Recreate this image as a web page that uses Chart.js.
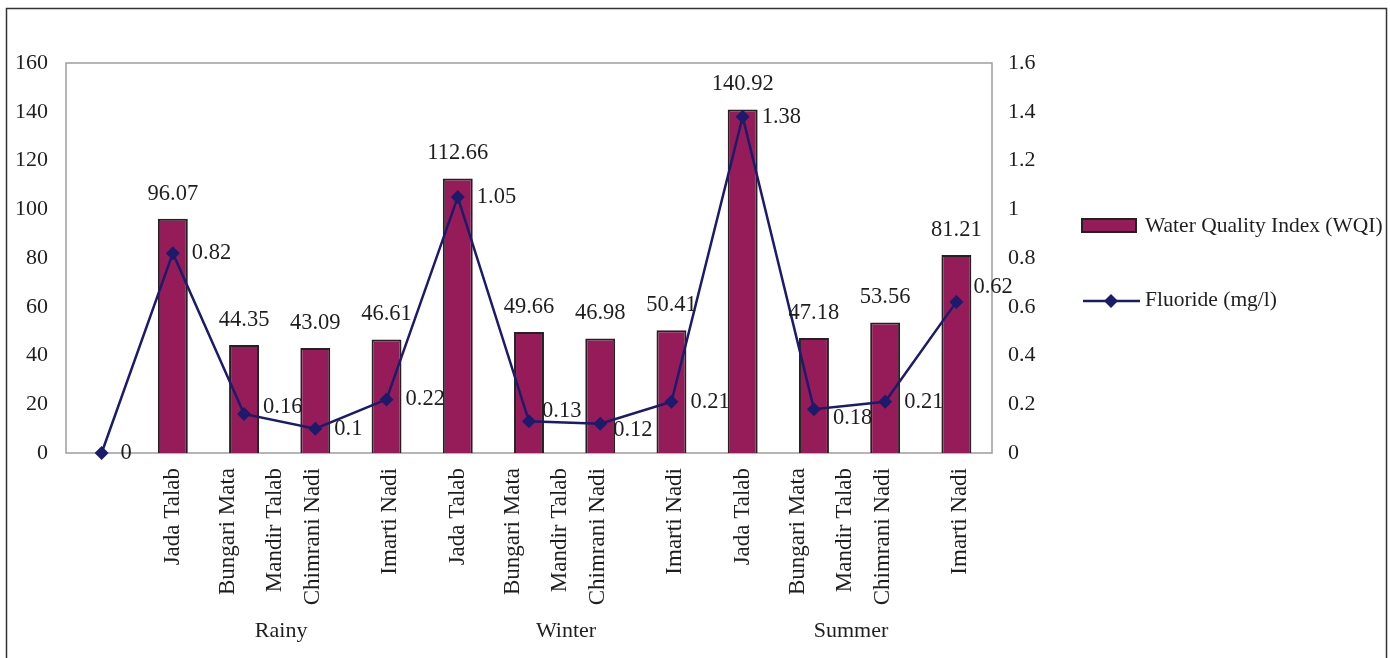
<!DOCTYPE html>
<html>
<head>
<meta charset="utf-8">
<script src="https://cdn.jsdelivr.net/npm/chart.js@4/dist/chart.umd.min.js"></script>
<style>
  html, body { margin: 0; padding: 0; background: #fff; }
  #wrap { width: 1390px; height: 658px; position: relative; }
</style>
</head>
<body>
<div id="wrap"><canvas id="c"></canvas></div>
<script>
// Sampling slots along the x axis: the first slot is the origin point, then 4 per season
const slots = ["origin", "R1", "R2", "R3", "R4", "W1", "W2", "W3", "W4", "S1", "S2", "S3", "S4"];

// Water Quality Index per slot (no bar at the origin)
const wqi = [null, 96.07, 44.35, 43.09, 46.61, 112.66, 49.66, 46.98, 50.41, 140.92, 47.18, 53.56, 81.21];

// Fluoride concentration (mg/l) per slot
const fluoride = [0, 0.82, 0.16, 0.1, 0.22, 1.05, 0.13, 0.12, 0.21, 1.38, 0.18, 0.21, 0.62];

// Site names printed under each season, and the seasons themselves
const sites = ["Jada Talab", "Bungari Mata", "Mandir Talab", "Chimrani Nadi", "Imarti Nadi"];
const seasons = ["Rainy", "Winter", "Summer"];
const seasonStart = [1, 5, 9];

// Axis tick values
const leftTicks = [0, 20, 40, 60, 80, 100, 120, 140, 160];
const rightTicks = [0, 0.2, 0.4, 0.6, 0.8, 1, 1.2, 1.4, 1.6];

// ---- layout / style settings ----
const FONT = "'Liberation Serif', 'Times New Roman', serif";
const TEXT = '#1e1e1e';
const BAR_FILL = '#961b59';
const BAR_EDGE = '#222222';
const LINE = '#1b1b6b';
// where each site name sits inside its season, in slot units
const siteSlotShift = [0, 0.77, 1.44, 1.97, 3.05];
const seasonSlotShift = 1.52;
// small nudges for a few fluoride value labels [dx, dy]
const fluorideLabelNudge = { 2: [19, -7], 6: [13, -10], 7: [13, 6], 10: [19, 9], 12: [17, -15] };

Chart.defaults.font.family = FONT;
Chart.defaults.color = TEXT;

const frame = {
  id: 'frame',
  beforeDraw(chart) {
    const { ctx } = chart;
    ctx.save();
    ctx.strokeStyle = '#333';
    ctx.lineWidth = 1.5;
    ctx.strokeRect(6.5, 8.5, 1380, 700);
    ctx.restore();
  },
  beforeDatasetsDraw(chart) {
    const { ctx, chartArea: a } = chart;
    ctx.save();
    ctx.strokeStyle = '#9d9d9d';
    ctx.lineWidth = 1.5;
    ctx.strokeRect(a.left, a.top, a.right - a.left, a.bottom - a.top);
    ctx.restore();
  }
};

const categoryLabels = {
  id: 'categoryLabels',
  afterDraw(chart) {
    const { ctx, chartArea: a } = chart;
    const xs = chart.scales.x;
    const step = xs.getPixelForValue(1) - xs.getPixelForValue(0);
    const at = (v) => xs.getPixelForValue(0) + v * step;
    ctx.save();
    ctx.fillStyle = TEXT;
    seasonStart.forEach((s, k) => {
      ctx.font = `23px ${FONT}`;
      sites.forEach((name, j) => {
        const x = at(s + siteSlotShift[j]);
        ctx.save();
        ctx.translate(x, a.bottom + 15);
        ctx.rotate(-Math.PI / 2);
        ctx.textAlign = 'right';
        ctx.textBaseline = 'middle';
        ctx.fillText(name, 0, 0);
        ctx.restore();
      });
      ctx.font = `22px ${FONT}`;
      ctx.textAlign = 'center';
      ctx.textBaseline = 'middle';
      ctx.fillText(seasons[k], at(s + seasonSlotShift), a.bottom + 178);
    });
    ctx.restore();
  }
};

const valueLabels = {
  id: 'valueLabels',
  afterDatasetsDraw(chart) {
    const { ctx } = chart;
    ctx.save();
    ctx.fillStyle = TEXT;
    ctx.font = `22.5px ${FONT}`;
    ctx.textBaseline = 'middle';
    chart.getDatasetMeta(0).data.forEach((el, i) => {
      if (wqi[i] == null) return;
      ctx.textAlign = 'center';
      ctx.fillText(wqi[i].toString(), el.x, el.y - 25);
    });
    chart.getDatasetMeta(1).data.forEach((el, i) => {
      const [dx, dy] = fluorideLabelNudge[i] || [19, 0];
      ctx.textAlign = 'left';
      ctx.fillText(fluoride[i].toString(), el.x + dx, el.y + dy);
    });
    ctx.restore();
  }
};

const sideLegend = {
  id: 'sideLegend',
  afterDraw(chart) {
    const { ctx, chartArea: a } = chart;
    const x0 = a.right + 90;
    ctx.save();
    // bar entry
    ctx.fillStyle = BAR_FILL;
    ctx.strokeStyle = BAR_EDGE;
    ctx.lineWidth = 2;
    ctx.fillRect(x0, 219, 54, 13);
    ctx.strokeRect(x0, 219, 54, 13);
    // line entry
    ctx.strokeStyle = LINE;
    ctx.lineWidth = 2.5;
    ctx.beginPath();
    ctx.moveTo(x0 + 1, 301);
    ctx.lineTo(x0 + 58, 301);
    ctx.stroke();
    ctx.fillStyle = LINE;
    ctx.beginPath();
    const cx = x0 + 29, cy = 301, r = 7;
    ctx.moveTo(cx, cy - r); ctx.lineTo(cx + r, cy); ctx.lineTo(cx, cy + r); ctx.lineTo(cx - r, cy);
    ctx.closePath();
    ctx.fill();
    // texts
    ctx.fillStyle = TEXT;
    ctx.font = `21.5px ${FONT}`;
    ctx.textAlign = 'left';
    ctx.textBaseline = 'middle';
    ctx.fillText('Water Quality Index (WQI)', x0 + 63, 226);
    ctx.fillText('Fluoride (mg/l)', x0 + 63, 300);
    ctx.restore();
  }
};

const fmt = (v) => String(+Number(v).toFixed(2));

new Chart(document.getElementById('c'), {
  data: {
    labels: slots,
    datasets: [
      {
        type: 'bar',
        label: 'Water Quality Index (WQI)',
        data: wqi,
        yAxisID: 'y',
        backgroundColor: BAR_FILL,
        borderColor: BAR_EDGE,
        borderWidth: 2,
        barPercentage: 0.42,
        categoryPercentage: 1,
        order: 2
      },
      {
        type: 'line',
        label: 'Fluoride (mg/l)',
        data: fluoride,
        yAxisID: 'y1',
        borderColor: LINE,
        backgroundColor: LINE,
        borderWidth: 2.5,
        tension: 0,
        pointStyle: 'rectRot',
        pointRadius: 7,
        pointBorderWidth: 0,
        pointBackgroundColor: LINE,
        clip: false,
        order: 1
      }
    ]
  },
  options: {
    responsive: true,
    maintainAspectRatio: false,
    animation: false,
    layout: { padding: { left: 0, top: 63, right: 338, bottom: 205 } },
    plugins: { legend: { display: false }, tooltip: { enabled: false } },
    scales: {
      x: {
        offset: true,
        grid: { display: false, drawTicks: false },
        border: { display: false },
        ticks: { display: false },
        afterFit(s) { s.height = 0; }
      },
      y: {
        position: 'left',
        min: leftTicks[0],
        max: leftTicks[leftTicks.length - 1],
        afterBuildTicks(s) { s.ticks = leftTicks.map(v => ({ value: v })); },
        grid: { display: false, drawTicks: false },
        border: { display: false },
        ticks: { padding: 18, color: TEXT, font: { size: 22 }, callback: fmt },
        afterFit(s) { s.width = 66; }
      },
      y1: {
        position: 'right',
        min: rightTicks[0],
        max: rightTicks[rightTicks.length - 1],
        afterBuildTicks(s) { s.ticks = rightTicks.map(v => ({ value: v })); },
        grid: { display: false, drawTicks: false },
        border: { display: false },
        ticks: { padding: 16, color: TEXT, font: { size: 22 }, callback: fmt },
        afterFit(s) { s.width = 60; }
      }
    }
  },
  plugins: [frame, categoryLabels, valueLabels, sideLegend]
});
</script>
</body>
</html>
